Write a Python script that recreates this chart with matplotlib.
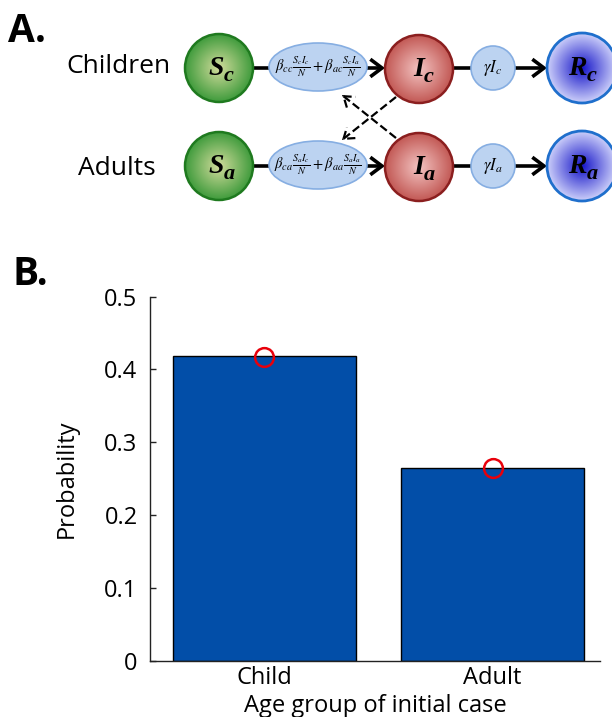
import numpy as np
import matplotlib
matplotlib.use("Agg")
import matplotlib.pyplot as plt
from matplotlib.patches import Circle, Ellipse, FancyArrowPatch
from matplotlib.colors import to_rgb

plt.rcParams['font.family'] = ['Open Sans', 'DejaVu Sans']
plt.rcParams['mathtext.fontset'] = 'stix'

# ---------------- data ----------------
categories = ['Child', 'Adult']
bar_values = [0.418, 0.264]          # simulated probability (bars)
model_values = [0.417, 0.264]        # analytic estimate (red circles)
y_ticks = [0, 0.1, 0.2, 0.3, 0.4, 0.5]
y_tick_labels = ['0', '0.1', '0.2', '0.3', '0.4', '0.5']
row_labels = ['Children', 'Adults']
row_subs = ['c', 'a']
flow_texts = [r'$\beta_{cc}\frac{S_cI_c}{N}+\beta_{ac}\frac{S_cI_a}{N}$',
              r'$\beta_{ca}\frac{S_aI_c}{N}+\beta_{aa}\frac{S_aI_a}{N}$']
recovery_texts = [r'$\gamma I_c$', r'$\gamma I_a$']

W, H = 612, 717
fig = plt.figure(figsize=(W / 100, H / 100), dpi=100)

# ---------------- panel A (diagram, pixel coordinates) ----------------
topH = 240
axA = fig.add_axes([0, 1 - topH / H, 1, topH / H])
axA.set_xlim(0, W)
axA.set_ylim(topH, 0)
axA.axis('off')


def grad_circle(ax, cx, cy, r, c_center, c_edge, c_line, lw=1.8, power=1.0):
    n = 200
    yy, xx = np.mgrid[-1:1:n * 1j, -1:1:n * 1j]
    rr = np.clip(np.sqrt(xx ** 2 + yy ** 2), 0, 1) ** power
    a = np.array(to_rgb(c_center))
    b = np.array(to_rgb(c_edge))
    img = a[None, None, :] * (1 - rr[..., None]) + b[None, None, :] * rr[..., None]
    im = ax.imshow(img, extent=(cx - r, cx + r, cy + r, cy - r), zorder=2,
                   interpolation='bilinear')
    circ = Circle((cx, cy), r, facecolor='none', edgecolor=c_line, lw=lw, zorder=3)
    ax.add_patch(circ)
    im.set_clip_path(circ)


def node_label(ax, cx, cy, letter, sub):
    ax.text(cx + 5, cy + 7, letter, ha='right', va='baseline', fontsize=20,
            family='Liberation Serif', weight='bold', style='italic', zorder=5)
    ax.text(cx + 5, cy + 13, sub, ha='left', va='baseline', fontsize=16,
            family='Liberation Serif', weight='bold', style='italic', zorder=5)


def arrow(ax, p0, p1, dashed=False, lw=2.4, head=True):
    style = '->,head_length=0.6,head_width=0.45' if head else '-'
    if dashed:
        style = '->,head_length=0.5,head_width=0.35'
    a = FancyArrowPatch(p0, p1, arrowstyle=style, mutation_scale=14, lw=lw,
                        color='black', linestyle='--' if dashed else '-',
                        shrinkA=0, shrinkB=0, zorder=1, capstyle='butt',
                        joinstyle='miter')
    ax.add_patch(a)


rows_y = [68, 166]
xs_S, xs_E, xs_I, xs_G, xs_R = 219, 318, 419, 493, 582
rS, rI, rR, rG = 34, 34, 35, 22

for k, cy in enumerate(rows_y):
    sub = row_subs[k]
    # connectors
    arrow(axA, (xs_S + rS - 2, cy), (xs_E - 49, cy), head=False, lw=2.6)
    arrow(axA, (xs_E + 47, cy), (xs_I - rI, cy), lw=2.6)
    arrow(axA, (xs_I + rI - 2, cy), (xs_G - rG + 1, cy), head=False, lw=2.6)
    arrow(axA, (xs_G + rG - 1, cy), (xs_R - rR, cy), lw=2.6)
    grad_circle(axA, xs_S, cy, rS, '#d2dc9c', '#3f9b3c', '#1f7a1f')
    grad_circle(axA, xs_I, cy + 1, rI, '#f3c4c2', '#c25854', '#8b1f1f')
    grad_circle(axA, xs_R, cy, rR, '#1414c8', '#cdd0fa', '#1f6fcc', lw=2.0)
    axA.add_patch(Ellipse((xs_E, cy - 1), 98, 48, facecolor='#bcd3f1',
                          edgecolor='#86aee2', lw=1.2, zorder=2))
    axA.add_patch(Circle((xs_G, cy), rG, facecolor='#bcd3f1',
                         edgecolor='#86aee2', lw=1.2, zorder=2))
    node_label(axA, xs_S, cy, 'S', sub)
    node_label(axA, xs_I, cy + 1, 'I', sub)
    node_label(axA, xs_R, cy, 'R', sub)
    axA.text(xs_E, cy - 1, flow_texts[k], ha='center', va='center', fontsize=10.5,
             zorder=5)
    axA.text(xs_G, cy, recovery_texts[k], ha='center', va='center', fontsize=12,
             zorder=5)

# cross-infection dashed arrows
arrow(axA, (396, 97), (342, 140), dashed=True, lw=1.6)
arrow(axA, (396, 138), (342, 95), dashed=True, lw=1.6)

axA.text(66, 73, row_labels[0], ha='left', va='baseline', fontsize=19)
axA.text(78, 175, row_labels[1], ha='left', va='baseline', fontsize=19)
axA.text(8, 42, 'A.', ha='left', va='baseline', fontsize=28, weight='bold')

# ---------------- panel B (bar chart) ----------------
fig.text(12 / W, 1 - 285 / H, 'B.', ha='left', va='baseline', fontsize=28,
         weight='bold')

axB = fig.add_axes([150 / W, 1 - 660.5 / H, 450 / W, 363.8 / H])
x = np.arange(len(categories))
axB.bar(x, bar_values, width=0.8, color='#024ea8', edgecolor='black', lw=1.0,
        zorder=2)
axB.plot(x, model_values, 'o', mfc='none', mec='#e8000b', ms=13.5, mew=1.8,
         zorder=3)
axB.set_xlim(-0.5, 1.47)
axB.set_ylim(0, 0.5)
axB.set_yticks(y_ticks)
axB.set_yticklabels(y_tick_labels)
axB.set_xticks(x)
axB.set_xticklabels(categories)
for s in ['top', 'right']:
    axB.spines[s].set_visible(False)
for s in ['left', 'bottom']:
    axB.spines[s].set_linewidth(1.0)
    axB.spines[s].set_color('#222222')
axB.tick_params(direction='in', length=4, width=1, labelsize=17, color='#222222')
axB.tick_params(axis='y', pad=9)
axB.tick_params(axis='x', pad=4)
axB.set_ylabel('Probability', fontsize=17)
axB.set_xlabel('Age group of initial case', fontsize=17)
axB.yaxis.set_label_coords(-0.158, 0.5)
axB.xaxis.set_label_coords(0.5, -0.093)

fig.savefig('out.png', dpi=100)
